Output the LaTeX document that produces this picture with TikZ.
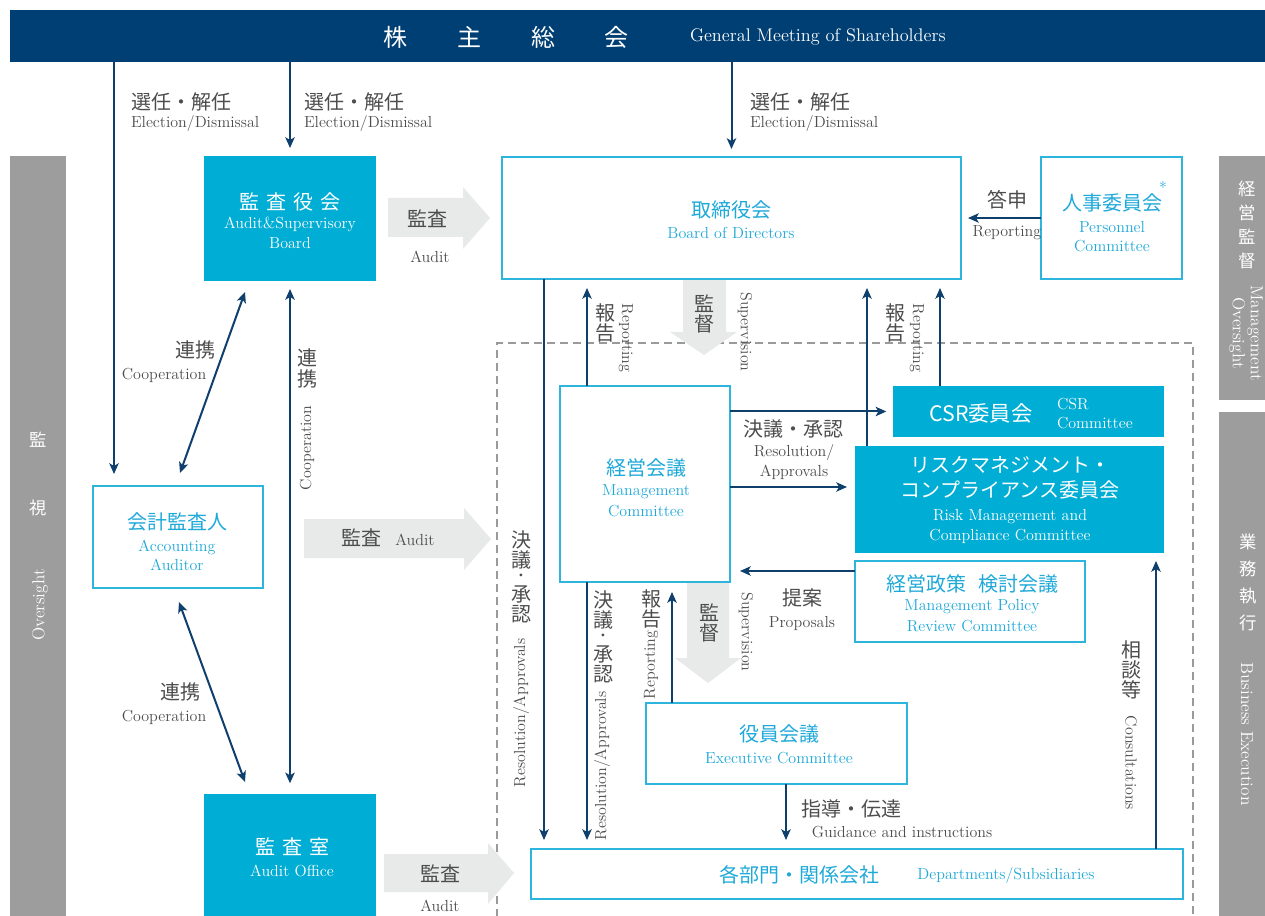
\documentclass[tikz,border=0pt]{standalone}
\usepackage{fontspec}
\newfontfamily\cjk{Noto Sans CJK JP}
\usetikzlibrary{arrows.meta,calc}
\definecolor{navy}{HTML}{003F74}
\definecolor{arrowblue}{HTML}{0F3F6D}
\definecolor{cyanfill}{HTML}{00ADD4}
\definecolor{cyanline}{HTML}{2DB5DE}
\definecolor{cyantext}{HTML}{1FA9D9}
\definecolor{labgray}{HTML}{4D4D4D}
\definecolor{bargray}{HTML}{9D9D9D}
\definecolor{lightarrow}{HTML}{E8E9E9}
\definecolor{dashgray}{HTML}{9A9A9A}
\begin{document}
\begin{tikzpicture}[x=0.75pt,y=-0.75pt,
  every node/.style={inner sep=0pt, outer sep=0pt},
  jp/.style={font=\cjk\fontsize{15}{20}\selectfont},
  jpdot/.style={font=\cjk\fontsize{10}{10}\selectfont},
  jps/.style={font=\cjk\fontsize{13}{18}\selectfont},
  vjp/.style={font=\cjk\fontsize{15}{15}\selectfont, align=center},
  en/.style={font=\fontsize{12}{14}\selectfont},
  ens/.style={font=\fontsize{13}{13.5}\selectfont},
  lab/.style={text=labgray},
  cyt/.style={text=cyantext},
  wht/.style={text=white},
  box/.style={draw=cyanline, line width=1.1pt, fill=white, anchor=north west},
  fbox/.style={fill=cyanfill, anchor=north west},
  tip/.tip={Stealth[length=8pt,width=7pt,inset=2pt]},
  arr/.style={draw=arrowblue, line width=1.5pt, -tip},
  dbl/.style={draw=arrowblue, line width=1.5pt, tip-tip},
  blk/.style={fill=lightarrow},
]
\useasboundingbox (0,0) rectangle (1265,916);
\fill[white] (0,0) rectangle (1265,916);

% side bars
\fill[bargray] (10,156) rectangle (66,930);
\fill[bargray] (1219,156) rectangle (1270,400);
\fill[bargray] (1219,412) rectangle (1270,930);

% dashed execution area
\draw[dashgray, line width=1pt, dash pattern=on 6pt off 3.75pt] (497,930) -- (497,343) -- (1193,343) -- (1193,930);

% block arrows
\fill[blk] (388,198) -- (463,198) -- (463,187) -- (490,218) -- (463,249) -- (463,237) -- (388,237) -- cycle;
\fill[blk] (304,519) -- (464,519) -- (464,508) -- (491,539) -- (464,570) -- (464,558) -- (304,558) -- cycle;
\fill[blk] (384,854) -- (488,854) -- (488,843) -- (514,873) -- (488,904) -- (488,892) -- (384,892) -- cycle;
\fill[blk] (683,280) -- (726,280) -- (726,332) -- (737,332) -- (704,355) -- (670,332) -- (683,332) -- cycle;
\fill[blk] (687,582) -- (729,582) -- (729,658) -- (741,658) -- (708,683) -- (675,658) -- (687,658) -- cycle;

% top bar
\node[fill=navy, anchor=north west, minimum width=941.25pt, minimum height=39pt] (gm) at (10,10) {};
\node[font=\cjk\fontsize{18}{20}\selectfont, wht] (gm1) at (395,37) {株};
\node[font=\cjk\fontsize{18}{20}\selectfont, wht] (gm2) at (469,37) {主};
\node[font=\cjk\fontsize{18}{20}\selectfont, wht] (gm3) at (543,37) {総};
\node[font=\cjk\fontsize{18}{20}\selectfont, wht] (gm4) at (616,37) {会};
\node[font=\fontsize{13.7}{15}\selectfont, wht, anchor=west] (gmen) at (690,37) {General Meeting of Shareholders};

% boxes
\node[fbox, minimum width=129pt, minimum height=93.75pt] (kab) at (204,156) {};
\node[fbox, minimum width=129pt, minimum height=102pt] (ao) at (204,794) {};
\node[box, minimum width=344.25pt, minimum height=91.5pt] (bod) at (502,157) {};
\node[box, minimum width=105.75pt, minimum height=91.5pt] (pc) at (1041,157) {};
\node[box, minimum width=127.5pt, minimum height=76.5pt] (acc) at (93,486) {};
\node[box, minimum width=127.5pt, minimum height=147pt] (mc) at (560,386) {};
\node[fbox, minimum width=203.25pt, minimum height=38.25pt] (csr) at (893,386) {};
\node[fbox, minimum width=231.75pt, minimum height=80.25pt] (risk) at (855,446) {};
\node[box, minimum width=172.5pt, minimum height=60.75pt] (mpr) at (855,561) {};
\node[box, minimum width=195.75pt, minimum height=60.75pt] (ec) at (646,703) {};
\node[box, minimum width=489pt, minimum height=37.5pt] (dep) at (531,849) {};

% box texts
\node[jp, wht] (kab1) at (290,202) {監\hspace{0.35em}査\hspace{0.35em}役\hspace{0.35em}会};
\node[en, wht] (kab2) at (290,224) {Audit\&Supervisory};
\node[en, wht] (kab3) at (290,243) {Board};
\node[jp, wht] (ao1) at (292,847) {監\hspace{0.35em}査\hspace{0.35em}室};
\node[en, wht] (ao2) at (292,871) {Audit Office};
\node[jp, cyt] (bod1) at (731,210) {取締役会};
\node[en, cyt] (bod2) at (731,233) {Board of Directors};
\node[jp, cyt] (pc1) at (1112,203) {人事委員会};
\node[en, cyt] (pcs) at (1163,188) {*};
\node[en, cyt] (pc2) at (1112,227) {Personnel};
\node[en, cyt] (pc3) at (1112,246) {Committee};
\node[jp, cyt] (acc1) at (177,522) {会計監査人};
\node[en, cyt] (acc2) at (177,547) {Accounting};
\node[en, cyt] (acc3) at (177,565) {Auditor};
\node[jp, cyt] (mc1) at (646,468) {経営会議};
\node[en, cyt] (mc2) at (646,492) {Management};
\node[en, cyt] (mc3) at (646,511) {Committee};
\node[font=\cjk\fontsize{16}{20}\selectfont, wht] (csr1) at (981,413) {CSR委員会};
\node[en, wht, anchor=west] (csr2) at (1057,404) {CSR};
\node[en, wht, anchor=west] (csr3) at (1057,423) {Committee};
\node[jp, wht] (risk1) at (1010,465) {リスクマネジメント・};
\node[jp, wht] (risk2) at (1010,490) {コンプライアンス委員会};
\node[en, wht] (risk3) at (1010,517) {Risk Management and};
\node[en, wht] (risk4) at (1010,536) {Compliance Committee};
\node[jp, cyt] (mpr1) at (972,584) {経営政策\hspace{0.6em}検討会議};
\node[en, cyt] (mpr2) at (972,607) {Management Policy};
\node[en, cyt] (mpr3) at (972,626) {Review Committee};
\node[jp, cyt] (ec1) at (779,734) {役員会議};
\node[en, cyt] (ec2) at (779,758) {Executive Committee};
\node[jp, cyt] (dep1) at (799,875) {各部門・関係会社};
\node[en, cyt] (dep2) at (1006,875) {Departments/Subsidiaries};

% side bar texts
\node[jps, wht] (ov1) at (38,440) {監};
\node[jps, wht] (ov2) at (38,508) {視};
\node[ens, wht, rotate=90] (ov3) at (40,605) {Oversight};
\node[font=\cjk\fontsize{13}{18}\selectfont, align=center, wht] (mo1) at (1247,225) {経\\営\\監\\督};
\node[ens, wht, rotate=-90, align=center] (mo2) at (1246,333) {Management\\Oversight};
\node[font=\cjk\fontsize{13}{20.25}\selectfont, align=center, wht] (be1) at (1248,582) {業\\務\\執\\行};
\node[ens, wht, rotate=-90] (be2) at (1247,734) {Business Execution};

% helper columns / rows
\coordinate (k1) at (114,0);
\coordinate (k2) at (544,0);
\coordinate (k3) at (587,0);
\coordinate (k4) at (867,0);
\coordinate (k5) at (940,0);
\coordinate (k7) at (0,487);
\coordinate (k8) at (0,571);
\coordinate (k9) at (672,0);
\coordinate (k10) at (786,0);
\coordinate (k11) at (1156,0);

% connectors
\draw[arr, shorten >=9pt] (gm.south -| k1) -- (acc.north -| k1);
\draw[arr, shorten >=6pt] (gm.south -| kab.north) -- (kab.north);
\draw[arr, shorten >=6pt] (gm.south -| bod.north) -- (bod.north);
\draw[dbl] ($(kab.south west)+(41,11)$) -- ($(acc.north west)+(87,-13)$);
\draw[dbl, shorten <=6pt, shorten >=8pt] (kab.south) -- (ao.north);
\draw[dbl] ($(acc.south west)+(86,14)$) -- ($(ao.north west)+(41,-12)$);
\draw[arr, shorten >=6.75pt] (bod.south -| k2) -- (dep.north -| k2);
\draw[arr, shorten >=6.75pt] (mc.north -| k3) -- (bod.south -| k3);
\draw[arr, shorten >=6.75pt] (risk.north -| k4) -- (bod.south -| k4);
\draw[arr, shorten >=6.75pt] (csr.north -| k5) -- (bod.south -| k5);
\draw[arr, shorten >=5.25pt] (pc.west) -- (bod.east);
\draw[arr, shorten >=5pt] (mc.east |- csr.west) -- (csr.west);
\draw[arr, shorten >=6pt] (mc.east |- k7) -- (risk.west |- k7);
\draw[arr, shorten >=7.5pt] (mpr.west |- k8) -- (mc.east |- k8);
\draw[arr, shorten >=6.75pt] (mc.south -| k3) -- (dep.north -| k3);
\draw[arr, shorten >=7.5pt] (ec.north -| k9) -- (mc.south -| k9);
\draw[arr, shorten >=6.75pt] (ec.south -| k10) -- (dep.north -| k10);
\draw[arr, shorten >=6pt] (dep.north -| k11) -- (risk.south -| k11);

% labels
\node[jp, lab, anchor=west] (l1a) at (131,102) {選任・解任};
\node[en, lab, anchor=west] (l1b) at (131,124) {Election/Dismissal};
\node[jp, lab, anchor=west] (l2a) at (304,102) {選任・解任};
\node[en, lab, anchor=west] (l2b) at (304,124) {Election/Dismissal};
\node[jp, lab, anchor=west] (l3a) at (750,102) {選任・解任};
\node[en, lab, anchor=west] (l3b) at (750,124) {Election/Dismissal};
\node[jp, lab] (a1a) at (427,219) {監査};
\node[en, lab] (a1b) at (430,257) {Audit};
\node[jp, lab] (c1a) at (195,350) {連携};
\node[en, lab] (c1b) at (164,375) {Cooperation};
\node[vjp, lab, font=\cjk\fontsize{15}{15.75}\selectfont] (c2a) at (307,368) {連\\携};
\node[en, lab, rotate=90] (c2b) at (307,448) {Cooperation};
\node[jp, lab] (c3a) at (180,692) {連携};
\node[en, lab] (c3b) at (164,717) {Cooperation};
\node[jp, lab] (a2a) at (361,538) {監査};
\node[en, lab] (a2b) at (415,540) {Audit};
\node[jp, lab] (a3a) at (440,874) {監査};
\node[en, lab] (a3b) at (440,906) {Audit};
% vertical 決議・承認 (upper)
\node[jp, lab] (r1a1) at (521,540) {決};
\node[jp, lab] (r1a2) at (521,560) {議};
\node[jpdot, lab] (r1a3) at (521,577) {・};
\node[jp, lab] (r1a4) at (521,594) {承};
\node[jp, lab] (r1a5) at (521,614) {認};
\node[en, lab, rotate=90] (r1b) at (521,713) {Resolution/Approvals};
\node[vjp, lab] (p1a) at (605,323) {報\\告};
\node[en, lab, rotate=-90] (p1b) at (626,338) {Reporting};
\node[vjp, lab] (s1a) at (704,314) {監\\督};
\node[en, lab, rotate=-90] (s1b) at (745,332) {Supervision};
\node[vjp, lab] (p2a) at (895,323) {報\\告};
\node[en, lab, rotate=-90] (p2b) at (917,338) {Reporting};
\node[jp, lab] (t1a) at (1007,200) {答申};
\node[en, lab] (t1b) at (1007,233) {Reporting};
\node[jp, lab] (r2a) at (793,429) {決議・承認};
\node[en, lab] (r2b) at (794,453) {Resolution/};
\node[en, lab] (r2c) at (794,472) {Approvals};
\node[jp, lab] (pr1a) at (802,598) {提案};
\node[en, lab] (pr1b) at (802,623) {Proposals};
% vertical 決議・承認 (lower)
\node[jp, lab] (r3a1) at (603,600) {決};
\node[jp, lab] (r3a2) at (603,620) {議};
\node[jpdot, lab] (r3a3) at (603,637) {・};
\node[jp, lab] (r3a4) at (603,654) {承};
\node[jp, lab] (r3a5) at (603,674) {認};
\node[en, lab, rotate=90] (r3b) at (602,766) {Resolution/Approvals};
\node[vjp, lab] (p3a) at (651,609) {報\\告};
\node[en, lab, rotate=90] (p3b) at (651,665) {Reporting};
\node[vjp, lab] (s2a) at (709,623) {監\\督};
\node[en, lab, rotate=-90] (s2b) at (746,632) {Supervision};
\node[jp, lab] (g1a) at (851,809) {指導・伝達};
\node[en, lab] (g1b) at (902,832) {Guidance and instructions};
\node[vjp, lab] (cs1a) at (1131,670) {相\\談\\等};
\node[en, lab, rotate=-90] (cs1b) at (1131,763) {Consultations};
\end{tikzpicture}
\end{document}
